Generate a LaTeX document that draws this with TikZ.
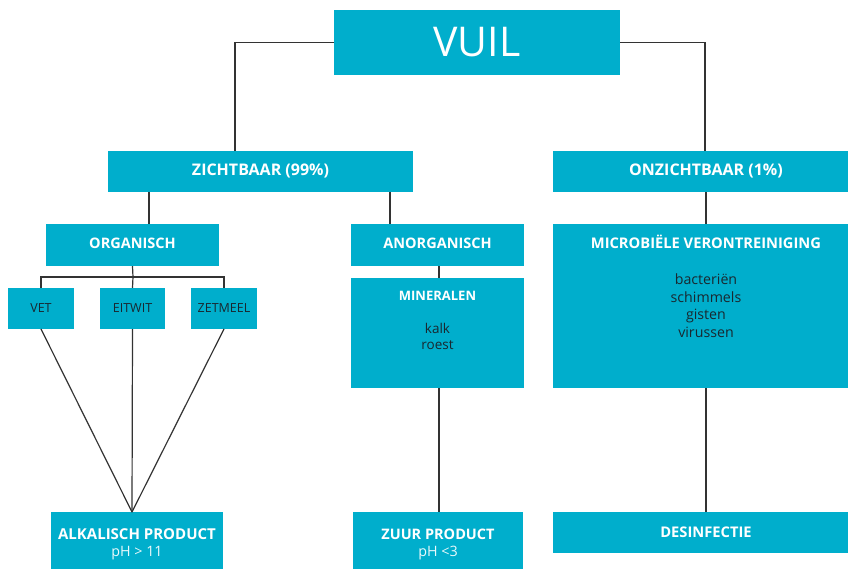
\documentclass[tikz,border=0pt]{standalone}
\usepackage{fontspec}
\setmainfont{Open Sans}
\definecolor{teal}{RGB}{0,174,204}
\definecolor{ln}{RGB}{51,51,51}
\definecolor{dk}{RGB}{25,40,48}
\begin{document}
\begin{tikzpicture}[x=1pt,y=-1pt,
  box/.style={fill=teal,draw=none,inner sep=0pt,minimum width=#1},
  hd/.style={text=white,font=\bfseries\fontsize{14.5}{17}\selectfont,inner sep=0pt},
  tx/.style={text=dk,font=\fontsize{14.2}{17.5}\selectfont,inner sep=0pt,align=center},
  con/.style={draw=ln,line width=1.2pt}]
\useasboundingbox (0,0) rectangle (848,569);
% boxes
\node[box=286pt,minimum height=65pt] (vuil) at (477,42.5) {};
\node[box=305pt,minimum height=41pt] (zicht) at (260.5,171.5) {};
\node[box=306pt,minimum height=41pt] (onzicht) at (706,171.5) {};
\node[box=173pt,minimum height=42pt] (org) at (132.5,245) {};
\node[box=173pt,minimum height=42pt] (anorg) at (437.5,245) {};
\node[box=306pt,minimum height=164pt] (micro) at (706,306) {};
\node[box=66pt,minimum height=41pt] (vet) at (41,308.5) {};
\node[box=65pt,minimum height=41pt] (eitwit) at (132.5,308.5) {};
\node[box=66pt,minimum height=41pt] (zetmeel) at (224,308.5) {};
\node[box=173pt,minimum height=110pt] (miner) at (437.5,333) {};
\node[box=172pt,minimum height=64pt] (alk) at (137,544) {};
\node[box=170pt,minimum height=64pt] (zuur) at (438,544) {};
\node[box=306pt,minimum height=41pt] (desinf) at (706,532.5) {};
% texts
\node[text=white,font=\fontsize{41}{45}\selectfont,inner sep=0pt] (tvuil) at (477,42.5) {VUIL};
\node[hd,font=\bfseries\fontsize{16}{19}\selectfont] (tzicht) at (260.5,171) {ZICHTBAAR (99\%)};
\node[hd,font=\bfseries\fontsize{16}{19}\selectfont] (tonzicht) at (706,171) {ONZICHTBAAR (1\%)};
\node[hd] (torg) at (132.5,243.5) {ORGANISCH};
\node[hd] (tanorg) at (437.5,243.5) {ANORGANISCH};
\node[hd,font=\bfseries\fontsize{14.7}{17}\selectfont] (tmicro) at (706,242) {MICROBIËLE VERONTREINIGING};
\node[tx,anchor=north] (lmicro) at (706,274) {bacteriën\\schimmels\\gisten\\virussen};
\node[tx,font=\fontsize{12.5}{16}\selectfont] (tvet) at (41,308.5) {VET};
\node[tx,font=\fontsize{12.5}{16}\selectfont] (teitwit) at (132.5,308.5) {EITWIT};
\node[tx,font=\fontsize{12.5}{16}\selectfont] (tzetmeel) at (224,308.5) {ZETMEEL};
\node[hd,font=\bfseries\fontsize{13}{16}\selectfont] (tminer) at (437.5,296) {MINERALEN};
\node[tx,anchor=north,font=\fontsize{13.5}{16}\selectfont] (lminer) at (437.5,323) {kalk\\roest};
\node[hd,font=\bfseries\fontsize{15}{17}\selectfont] (talk) at (137,534.5) {ALKALISCH PRODUCT};
\node[text=white!92!teal,font=\fontsize{14.3}{16}\selectfont,inner sep=0pt] (palk) at (137,553) {pH > 11};
\node[hd] (tzuur) at (438,534.5) {ZUUR PRODUCT};
\node[text=white!92!teal,font=\fontsize{14.3}{16}\selectfont,inner sep=0pt] (pzuur) at (438,553) {pH <3};
\node[hd,font=\bfseries\fontsize{14.7}{17}\selectfont] (tdesinf) at (706,532.5) {DESINFECTIE};
% connector points
\coordinate (zl) at (235,151);
\coordinate (zr) at (705,151);
\coordinate (zo1) at (149,192);
\coordinate (zo2) at (149,224);
\coordinate (za1) at (390,192);
\coordinate (za2) at (390,224);
\coordinate (bus) at (133,277);
\coordinate (am1) at (439,266);
\coordinate (am2) at (439,278);
\coordinate (mz1) at (439,388);
\coordinate (mz2) at (439,512);
\coordinate (vb) at (41,329);
\coordinate (zb) at (224,329);
\coordinate (ab) at (132,512);
% connectors
\draw[con] (vuil.west) -| (zl);
\draw[con] (vuil.east) -| (zr);
\draw[con] (zo1) -- (zo2);
\draw[con] (za1) -- (za2);
\draw[con] (onzicht.south) -- (micro.north);
\draw[con] (org.south) -- (bus);
\draw[con] (vet.north) |- (bus) -| (zetmeel.north);
\draw[con] (bus) -- (eitwit.north);
\draw[con] (am1) -- (am2);
\draw[con] (vb) -- (ab);
\draw[con] (eitwit.south) -- (ab);
\draw[con] (zb) -- (ab);
\draw[con] (mz1) -- (mz2);
\draw[con] (micro.south) -- (desinf.north);
\end{tikzpicture}
\end{document}
